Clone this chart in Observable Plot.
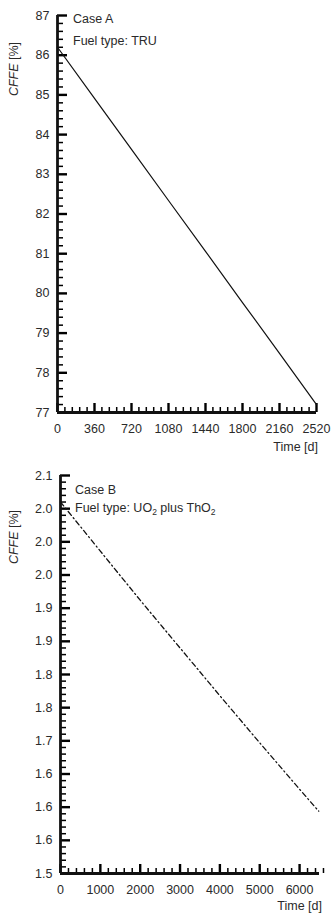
<!DOCTYPE html>
<html><head><meta charset="utf-8">
<script src="https://cdn.jsdelivr.net/npm/d3@7"></script>
<script src="https://cdn.jsdelivr.net/npm/@observablehq/plot@0.6"></script>
<style>body{margin:0;background:#fff} #c svg{display:block}</style>
</head><body><div id="c"></div>
<script>
// Case A — Fuel type: TRU
const timeA = [0, 360, 720, 1080, 1440, 1800, 2160, 2520];
const cffeA = [86.2, 84.91, 83.63, 82.34, 81.06, 79.77, 78.49, 77.2];
const xTicksA = [0, 360, 720, 1080, 1440, 1800, 2160, 2520];
const yTicksA = [77, 78, 79, 80, 81, 82, 83, 84, 85, 86, 87];

// Case B — Fuel type: UO2 plus ThO2
const timeB = [0, 1000, 2000, 3000, 4000, 5000, 6000, 6480];
const cffeB = [2.06, 1.986, 1.912, 1.840, 1.768, 1.697, 1.627, 1.594];
const xTicksB = [0, 1000, 2000, 3000, 4000, 5000, 6000];
const yTicksB = [1.5, 1.55, 1.6, 1.65, 1.7, 1.75, 1.8, 1.85, 1.9, 1.95, 2.0, 2.05, 2.1];
const yTickLabelsB = ["1.5", "1.6", "1.6", "1.6", "1.7", "1.8", "1.8", "1.9", "1.9", "2.0", "2.0", "2.0", "2.1"];

const FONT = "'Liberation Sans', Arial, Helvetica, sans-serif";
const INK = "#2a2a2a";

function tickRows(major, step, lo, hi) {
  const rows = major.map(v => ({v, major: true}));
  const n = Math.round((hi - lo) / step);
  for (let i = 0; i <= n; i++) {
    const v = lo + i * step;
    if (!major.some(m => Math.abs(m - v) < step / 10)) rows.push({v, major: false});
  }
  return rows;
}

function chart(o) {
  const W = 335;
  const iw = W - o.ml - o.mr, ih = o.height - o.mt - o.mb;
  const [x0, x1] = o.xDomain, [y0, y1] = o.yDomain;
  const data = o.xs.map((t, i) => ({t, v: o.ys[i]}));
  const xr = tickRows(o.xMajor, o.xStep, x0, x1);
  const yr = tickRows(o.yMajor, o.yStep, y0, y1);
  // tick lengths in pixels converted to data units along the perpendicular scale
  const dy = px => (y1 - y0) * px / ih;
  const dx = px => (x1 - x0) * px / iw;
  return Plot.plot({
    width: W, height: o.height,
    marginLeft: o.ml, marginRight: o.mr, marginTop: o.mt, marginBottom: o.mb,
    style: {fontFamily: FONT, fontSize: "12.5px", color: INK, background: "#fff", overflow: "visible"},
    x: {domain: o.xDomain},
    y: {domain: o.yDomain},
    marks: [
      Plot.axisX(o.xMajor, {tickSize: 0, tickPadding: 12, tickFormat: d => String(d), label: null, fill: INK}),
      Plot.axisY(o.yMajor, {tickSize: 0, tickPadding: 8, tickFormat: o.yFormat, label: null, fill: INK}),
      Plot.ruleX(xr.filter(d => !d.major), {x: "v", y1: y0, y2: y0 + dy(5), stroke: "#000", strokeWidth: 1.5}),
      Plot.ruleX(xr.filter(d => d.major), {x: "v", y1: y0, y2: y0 + dy(9), stroke: "#000", strokeWidth: 2.4}),
      Plot.ruleY(yr.filter(d => !d.major), {y: "v", x1: x0, x2: x0 + dx(6), stroke: "#000", strokeWidth: 1.5}),
      Plot.ruleY(yr.filter(d => d.major), {y: "v", x1: x0, x2: x0 + dx(10), stroke: "#000", strokeWidth: 2.4}),
      Plot.ruleX([x0], {stroke: "#111", strokeWidth: 2.8}),
      Plot.ruleY([y0], {stroke: "#111", strokeWidth: 2.8}),
      Plot.line(data, {x: "t", y: "v", stroke: "#111", strokeWidth: o.sw, strokeDasharray: o.dash})
    ]
  });
}

function addText(svg, o) {
  const s = d3.select(svg).append("g").attr("font-family", FONT).attr("fill", INK).attr("text-anchor", "start");
  const yl = s.append("text").attr("transform", `translate(${o.ylx},${o.yly}) rotate(-90)`)
    .attr("text-anchor", "middle").attr("font-size", 12.5).attr("dominant-baseline", "middle");
  yl.append("tspan").attr("font-style", "italic").text("CFFE");
  yl.append("tspan").text(" [%]");
  s.append("text").attr("x", o.xlx).attr("y", o.xly).attr("text-anchor", "end").attr("font-size", 12.5).text("Time [d]");
  s.append("text").attr("x", o.ax).attr("y", o.a1y).attr("text-anchor", "start").attr("font-size", 12.5).text(o.caseName);
  const f = s.append("text").attr("x", o.ax).attr("y", o.a2y).attr("text-anchor", "start").attr("font-size", 12.5);
  o.fuel(f);
}

const pA = chart({
  xs: timeA, ys: cffeA, xDomain: [0, 2520], yDomain: [77, 87],
  xMajor: xTicksA, yMajor: yTicksA, xStep: 72, yStep: 0.2,
  yFormat: d => String(d), height: 460, ml: 57, mr: 19, mt: 15, mb: 48, sw: 1.2
});
addText(pA, {ylx: 15, yly: 69, xlx: 318, xly: 451, ax: 73, a1y: 22.5, a2y: 45, caseName: "Case A",
  fuel: t => t.text("Fuel type: TRU")});

const pB = chart({
  xs: timeB, ys: cffeB, xDomain: [0, 6500], yDomain: [1.5, 2.1],
  xMajor: xTicksB, yMajor: yTicksB, xStep: 200, yStep: 0.01,
  yFormat: d => yTickLabelsB[yTicksB.findIndex(v => Math.abs(v - d) < 1e-9)],
  height: 454, ml: 60, mr: 16, mt: 15, mb: 41, sw: 1.3, dash: "5,3,1.2,3"
});
addText(pB, {ylx: 15, yly: 77, xlx: 322, xly: 450, ax: 75, a1y: 33.5, a2y: 52, caseName: "Case B",
  fuel: t => {
    t.append("tspan").text("Fuel type: UO");
    t.append("tspan").attr("dy", 3).attr("font-size", 8.5).text("2");
    t.append("tspan").attr("dy", -3).text(" plus ThO");
    t.append("tspan").attr("dy", 3).attr("font-size", 8.5).text("2");
  }});

document.getElementById("c").append(pA, pB);
</script>
</body></html>
